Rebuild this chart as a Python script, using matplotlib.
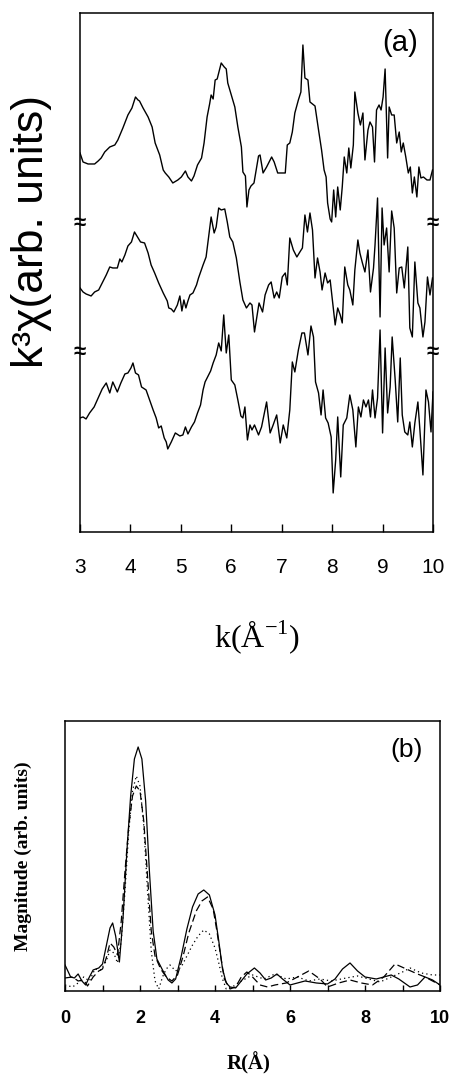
import numpy as np
import matplotlib
matplotlib.use("Agg")
import matplotlib.pyplot as plt

# ---- panel (a): k^3 chi(k), three offset traces ----
k_top = [3.00, 3.06, 3.16, 3.29, 3.36, 3.42, 3.49, 3.59, 3.69, 3.75,
         3.85, 3.95, 4.03, 4.10, 4.15, 4.18, 4.25, 4.35, 4.43, 4.49,
         4.58, 4.65, 4.69, 4.76, 4.84, 4.94, 5.01, 5.09, 5.14, 5.21,
         5.26, 5.33, 5.41, 5.46, 5.52, 5.57, 5.60, 5.64, 5.68, 5.72,
         5.75, 5.80, 5.86, 5.90, 5.93, 6.00, 6.07, 6.13, 6.20, 6.23,
         6.28, 6.31, 6.35, 6.39, 6.45,
         6.54, 6.57, 6.63, 6.70, 6.80, 6.85, 6.92, 6.99, 7.07, 7.11,
         7.16, 7.21, 7.26, 7.33, 7.38, 7.42, 7.46, 7.52, 7.56, 7.61,
         7.66, 7.73, 7.79, 7.84, 7.88, 7.91, 7.96, 7.99, 8.03, 8.07,
         8.11, 8.16, 8.20, 8.24, 8.29, 8.33, 8.37, 8.42, 8.45, 8.51,
         8.56, 8.61, 8.65, 8.71, 8.75, 8.80, 8.84, 8.88, 8.93, 8.97,
         9.01, 9.05, 9.10, 9.13, 9.18, 9.23, 9.28, 9.33, 9.37, 9.41,
         9.46, 9.51, 9.55, 9.59, 9.63, 9.68, 9.72, 9.76, 9.81, 9.88,
         9.94, 9.99]
chi_top = [-1, -10, -12, -12, -9, -6, 0, 5, 7, 12,
           24, 37, 44, 55, 52, 51, 44, 35, 25, 9,
           -3, -18, -21, -25, -31, -28, -25, -19, -25, -29,
           -24, -13, -6, 9, 35, 48, 57, 53, 72, 73,
           79, 89, 85, 83, 69, 57, 45, 25, 5, -20,
           -24, -55, -38, -34, -31,
           -4, -3, -21, -15, -5, -10, -21, -21, -21, 7,
           9, 20, 39, 52, 60, 107, 74, 72, 50, 48,
           46, 22, 2, -18, -25, -51, -67, -70, -38, -65,
           -35, -58, -35, -5, -21, 4, -16, 7, 60, 39,
           27, 39, -8, 22, 30, 25, -10, 42, 47, 42,
           55, 83, -6, 45, 37, 37, 9, 20, 0, 9,
           -5, -21, -15, -41, -25, -45, -15, -26, -25, -28,
           -28, -18]

k_mid = [3.00, 3.06, 3.12, 3.22, 3.29, 3.37, 3.44, 3.52, 3.59, 3.65,
         3.74, 3.79, 3.83, 3.89, 3.95, 4.02, 4.08, 4.14, 4.20, 4.28,
         4.35, 4.41, 4.48, 4.56, 4.65, 4.73, 4.76, 4.81, 4.86, 4.93,
         4.98, 5.02, 5.06, 5.10, 5.14, 5.18, 5.24, 5.31, 5.35, 5.44,
         5.50, 5.55, 5.60, 5.66, 5.70, 5.75, 5.80, 5.87, 5.92, 5.97,
         6.03, 6.10, 6.17, 6.23, 6.30, 6.37, 6.41, 6.46,
         6.55, 6.62, 6.67, 6.74, 6.79, 6.85, 6.90, 6.95, 7.01, 7.07,
         7.11, 7.16, 7.23, 7.30, 7.36, 7.41, 7.46, 7.51, 7.56, 7.61,
         7.66, 7.71, 7.76, 7.80, 7.86, 7.91, 7.96, 8.00, 8.06, 8.11,
         8.16, 8.20, 8.25, 8.31, 8.35, 8.41, 8.45, 8.51, 8.55, 8.60,
         8.65, 8.71, 8.76, 8.82, 8.85, 8.90, 8.95, 8.99, 9.03, 9.08,
         9.13, 9.18, 9.23, 9.28, 9.33, 9.38, 9.43, 9.50, 9.54, 9.59,
         9.64, 9.70, 9.74, 9.80, 9.84, 9.89, 9.94, 9.99]
chi_mid = [4, 0, -2, -4, 0, 2, 9, 17, 25, 24,
           24, 33, 30, 37, 46, 50, 60, 55, 50, 49,
           39, 27, 19, 9, -1, -9, -16, -17, -20, -13,
           -4, -19, -8, -16, -9, -3, -1, 7, 14, 27,
           35, 55, 75, 59, 65, 84, 82, 83, 70, 55,
           50, 34, 10, -8, -16, -11, -13, -40,
           -11, -20, -3, 7, 10, -6, 0, -6, 15, 19,
           7, 54, 42, 35, 40, 44, 77, 60, 79, 62,
           14, 34, 20, 2, 19, 9, 12, -6, -33, -16,
           -23, -31, 25, 7, 2, -13, 22, 52, 39, 29,
           20, 42, 0, 24, 47, 94, -25, 84, 47, 64,
           20, 81, 64, -1, 24, 25, 4, 45, -36, -45,
           30, -11, -16, -45, -30, 15, -3, 14]

k_bot = [3.00, 3.06, 3.12, 3.19, 3.28, 3.36, 3.44, 3.52, 3.59, 3.65,
         3.74, 3.81, 3.89, 3.95, 4.01, 4.05, 4.10, 4.16, 4.22, 4.31,
         4.38, 4.45, 4.51, 4.56, 4.61, 4.67, 4.71, 4.74, 4.81, 4.89,
         4.98, 5.04, 5.09, 5.14, 5.21, 5.27, 5.33, 5.39, 5.44, 5.48,
         5.54, 5.59, 5.64, 5.70, 5.75, 5.80, 5.85, 5.90, 5.95, 6.00,
         6.07, 6.13, 6.19, 6.23, 6.27, 6.32, 6.37, 6.41, 6.46, 6.54,
         6.60, 6.70, 6.77, 6.83, 6.90, 6.97, 7.03, 7.10, 7.16, 7.21,
         7.26, 7.33, 7.40, 7.45, 7.52, 7.58, 7.63, 7.67, 7.73, 7.78,
         7.82, 7.87, 7.92, 7.98, 8.02, 8.07, 8.11, 8.17, 8.22, 8.29,
         8.35, 8.41, 8.47, 8.52, 8.57, 8.62, 8.67, 8.72, 8.76, 8.80,
         8.85, 8.90, 8.95, 9.00, 9.05, 9.10, 9.15, 9.19, 9.25, 9.30,
         9.35, 9.39, 9.44, 9.50, 9.54, 9.59, 9.64, 9.70, 9.74, 9.80,
         9.86, 9.91, 9.96, 10.00]
chi_bot = [-6, -5, -7, -1, 5, 14, 23, 29, 19, 30,
           20, 29, 38, 39, 44, 49, 39, 37, 25, 22,
           12, 2, -6, -16, -14, -26, -30, -37, -30, -21,
           -24, -23, -15, -22, -15, -10, -1, 7, 22, 30,
           36, 41, 49, 57, 69, 61, 97, 59, 77, 32,
           27, 12, -4, -6, 5, -28, -13, -18, -13, -23,
           -15, 10, -21, -13, -3, -31, -13, -26, 2, 50,
           40, 62, 79, 79, 57, 86, 75, 30, 19, -3,
           22, -6, -11, -25, -81, -48, -5, -65, -13, -6,
           17, 2, -35, 5, -5, 12, 5, 12, -5, 22,
           -6, 14, 82, -21, 64, -1, 25, 75, 32, -10,
           54, -3, -20, -23, -10, -35, -11, 10, -18, -63,
           22, 10, -20, 20]

offsets = [380, 240, 120]
break_marks = [309, 179]
k_ticks = [3, 4, 5, 6, 7, 8, 9, 10]

# ---- panel (b): Fourier transform magnitudes ----
r_solid = [0.0, 0.15, 0.25, 0.35, 0.45, 0.55, 0.65, 0.75, 0.9, 1.0,
           1.1, 1.2, 1.27, 1.35, 1.45, 1.55, 1.65, 1.75, 1.85, 1.95,
           2.05, 2.15, 2.25, 2.35, 2.45, 2.6, 2.75, 2.85, 2.95, 3.1,
           3.25, 3.4, 3.55, 3.7, 3.85, 4.0, 4.1, 4.2, 4.3, 4.4,
           4.55, 4.7, 4.85, 5.05, 5.2, 5.35, 5.5, 5.65, 5.8, 6.0,
           6.2, 6.4, 6.7, 7.0, 7.2, 7.4, 7.6, 7.8, 8.0, 8.3,
           8.7, 8.9, 9.2, 9.4, 9.6, 9.8, 10.0]
mag_solid = [26, 14, 13, 17, 10, 6, 14, 21, 23, 27,
             45, 63, 68, 55, 29, 75, 140, 195, 232, 244,
             232, 190, 120, 60, 32, 21, 11, 8, 12, 35,
             62, 84, 97, 101, 96, 76, 50, 22, 8, 4,
             3, 10, 17, 23, 18, 11, 13, 17, 12, 6,
             8, 10, 8, 7, 12, 22, 28, 20, 14, 12,
             16, 12, 4, 6, 14, 11, 6]

r_dash = [0.0, 0.2, 0.35, 0.5, 0.6, 0.75, 0.9, 1.0, 1.1, 1.2,
          1.3, 1.4, 1.5, 1.6, 1.7, 1.8, 1.9, 2.0, 2.1, 2.2,
          2.3, 2.4, 2.55, 2.7, 2.85, 3.0, 3.15, 3.3, 3.5, 3.65,
          3.8, 3.95, 4.05, 4.15, 4.25, 4.4, 4.55, 4.7, 4.85, 5.0,
          5.2, 5.4, 5.6, 5.9, 6.2, 6.5, 6.8, 7.0, 7.3, 7.6,
          7.9, 8.2, 8.5, 8.8, 9.1, 9.4, 9.6, 9.8, 10.0]
mag_dash = [13, 14, 10, 11, 5, 14, 20, 22, 33, 48,
            44, 36, 70, 120, 165, 195, 205, 200, 170, 115,
            60, 35, 22, 14, 10, 16, 35, 58, 80, 90,
            94, 82, 60, 35, 12, 2, 4, 14, 19, 14,
            6, 4, 6, 8, 14, 20, 12, 4, 8, 11,
            8, 6, 14, 27, 22, 17, 14, 10, 6]

r_dot = [0.0, 0.2, 0.35, 0.5, 0.65, 0.8, 0.95, 1.1, 1.2, 1.3,
         1.4, 1.5, 1.6, 1.7, 1.8, 1.9, 2.0, 2.1, 2.2, 2.3,
         2.4, 2.5, 2.6, 2.7, 2.8, 2.95, 3.1, 3.25, 3.4, 3.55,
         3.7, 3.85, 4.0, 4.1, 4.2, 4.3, 4.5, 4.7, 5.0, 5.3,
         5.6, 5.9, 6.2, 6.5, 6.8, 7.1, 7.5, 7.8, 8.1, 8.4,
         8.7, 9.0, 9.2, 9.5, 9.8, 10.0]
mag_dot = [6, 4, 8, 14, 10, 22, 21, 30, 41, 38,
           28, 50, 100, 160, 200, 215, 205, 165, 100, 40,
           10, 2, 14, 22, 26, 20, 24, 35, 46, 55,
           61, 57, 43, 28, 12, 2, 5, 10, 16, 12,
           17, 12, 14, 10, 12, 10, 13, 15, 12, 9,
           14, 19, 23, 18, 16, 16]

r_ticks = [0, 2, 4, 6, 8, 10]

sans = ['Liberation Sans', 'DejaVu Sans']
serif = ['Liberation Serif', 'DejaVu Serif']

fig = plt.figure(figsize=(4.49, 10.74), dpi=100)

# panel (a)
ax1 = fig.add_axes([0.1782, 0.5047, 0.7862, 0.4832])
for kk, cc, off in zip([k_top, k_mid, k_bot], [chi_top, chi_mid, chi_bot], offsets):
    ax1.plot(kk, np.array(cc) + off, color='black', lw=1.0)
ax1.set_xlim(3, 10)
ax1.set_ylim(0, 519)
ax1.set_xticks(k_ticks)
ax1.set_yticks([])
ax1.tick_params(axis='x', direction='in', length=6, width=1, pad=19,
                labelsize=15)
for lab in ax1.get_xticklabels():
    lab.set_family(sans)
for s in ax1.spines.values():
    s.set_linewidth(1.1)
for yb in break_marks:
    for xb in (3, 10):
        ax1.text(xb, yb, '≈', ha='center', va='center', fontsize=16,
                 fontweight='bold', family=sans, clip_on=False)
ax1.text(0.906, 0.942, '(a)', transform=ax1.transAxes, ha='center',
         va='center', fontsize=21, family=sans)
fig.text(0.070, 0.784, 'k³χ(arb. units)', rotation=90, ha='center',
         va='center', fontsize=32, family=sans)
fig.text(0.572, 0.407, r'k(Å$^{\mathregular{-1}}$)', ha='center',
         va='center', fontsize=23, family=serif)

# panel (b)
ax2 = fig.add_axes([0.1448, 0.0773, 0.8352, 0.2514])
ax2.plot(r_solid, mag_solid, color='black', lw=0.9, ls='-')
ax2.plot(r_dash, mag_dash, color='black', lw=0.9, ls=(0, (6, 3)))
ax2.plot(r_dot, mag_dot, color='black', lw=0.9, ls=(0, (1, 2.5)))
ax2.set_xlim(0, 10)
ax2.set_ylim(0, 270)
ax2.set_xticks(r_ticks)
ax2.set_xticks(range(0, 11), minor=True)
ax2.set_yticks([])
ax2.tick_params(axis='x', which='both', direction='in', length=4, width=1,
                pad=14, labelsize=13)
for lab in ax2.get_xticklabels():
    lab.set_family(sans)
    lab.set_fontweight('bold')
for s in ax2.spines.values():
    s.set_linewidth(1.1)
ax2.text(0.912, 0.893, '(b)', transform=ax2.transAxes, ha='center',
         va='center', fontsize=19, family=sans)
fig.text(0.052, 0.203, 'Magnitude (arb. units)', rotation=90, ha='center',
         va='center', fontsize=14, fontweight='bold', family=serif)
fig.text(0.553, 0.0102, 'R(Å)', ha='center', va='center', fontsize=15,
         fontweight='bold', family=serif)

fig.savefig('out.png', dpi=100)
